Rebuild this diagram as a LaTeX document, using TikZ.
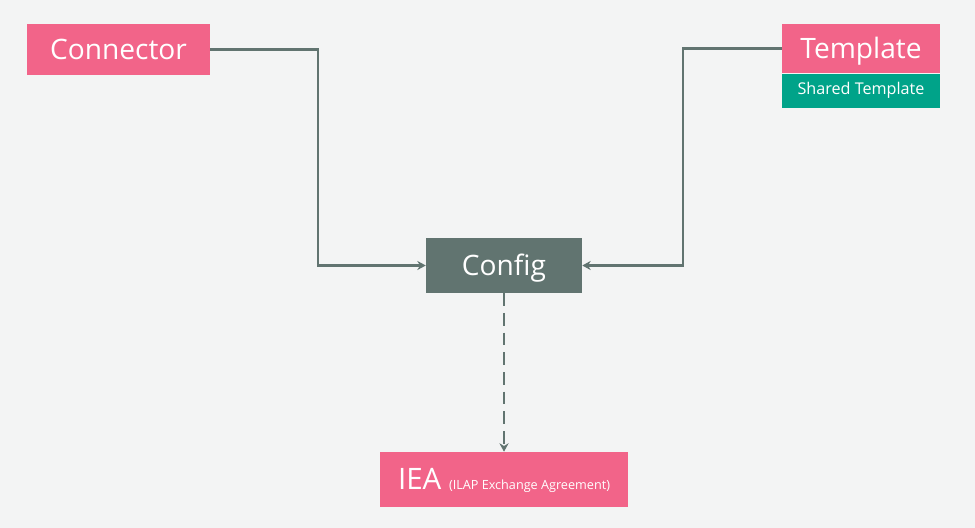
\documentclass[tikz,border=0pt]{standalone}
\usepackage{fontspec}
\setmainfont{Open Sans}
\usepackage{tikz}
\usetikzlibrary{positioning,arrows.meta}

\definecolor{bgcol}{HTML}{F3F4F4}
\definecolor{pinkbox}{HTML}{F26489}
\definecolor{greenbox}{HTML}{00A389}
\definecolor{slate}{HTML}{617470}

\tikzset{
    box/.style={fill=pinkbox, text=white, inner sep=0pt, text height=14pt, text depth=0pt, font=\fontsize{20}{24}\selectfont},
    link/.style={draw=slate, line width=2.1pt, >={Stealth[length=6pt,width=6.5pt]}},
}

\begin{document}
\begin{tikzpicture}
        \fill[bgcol] (0,0) rectangle (24.375,-13.2);
        \useasboundingbox (0,0) rectangle (24.375,-13.2);
        \node[box, minimum width=4.575cm, minimum height=1.275cm] (connector) at (2.9625,-1.2375) {Connector};
        \node[box, minimum width=3.95cm, minimum height=1.225cm] (template) at (21.525,-1.2125) {Template};
        \node[box, fill=greenbox, minimum width=3.95cm, minimum height=0.85cm, text height=5.5pt, font=\fontsize{11.5}{13}\selectfont, below=0pt of template] (shared) {Shared Template};
        \node[box, fill=slate, minimum width=3.9cm, minimum height=1.375cm] (config) at (12.6,-6.6375) {Config};
        \node[box, minimum width=6.2cm, minimum height=1.375cm] (iea) at (12.6,-11.9875) {\fontsize{21}{24}\selectfont IEA \fontsize{9}{11}\selectfont(ILAP Exchange Agreement)};
        \draw[link, ->] (connector.east) -| (7.95,-4) |- (config.west);
        \draw[link, ->] (template.west) -| (17.075,-4) |- (config.east);
        \draw[link, ->, dash pattern=on 9pt off 5pt] (config.south) -- (iea.north);
    \end{tikzpicture}
\end{document}
